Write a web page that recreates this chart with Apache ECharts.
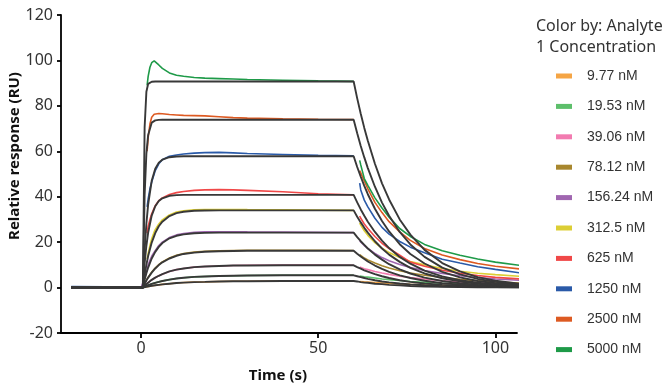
<!DOCTYPE html>
<html>
<head>
<meta charset="utf-8">
<script src="https://cdn.jsdelivr.net/npm/echarts@6/dist/echarts.min.js"></script>
<style>html,body{margin:0;padding:0;background:#fff}#c{width:672px;height:387px}</style>
</head>
<body>
<div id="c"></div>
<script>
// ---- data ----
const concLabels = ['9.77 nM','19.53 nM','39.06 nM','78.12 nM','156.24 nM','312.5 nM','625 nM','1250 nM','2500 nM','5000 nM'];
const xTicks = [0, 50, 100];

// time grid of measured (coloured) curves
const tData = [-19.7,-10,0,1,1.7,2,2.5,3,3.7,4,5,6,8,10,12,15,18,22,26,30,40,50,60,61,61.7,62,63,64,66,68,70,73,76,80,85,90,95,100,106.8];
const d5000 = [0.3,0.2,0.1,null,89,93,97,99,99.8,99.5,98,96.5,94.5,93.5,93,92.5,92.2,92,91.8,91.6,91.3,91,90.8,null,56,54,48,45,39.5,35,31,26,22.5,19,16.2,14.2,12.6,11.2,9.8];
const d2500 = [0,0.1,0,null,60,66,72,75,76.3,76.5,76.6,76.5,76.2,76,75.8,75.7,75.6,75.2,74.8,74.6,74.3,74.1,74,null,51.5,50.5,47,43.5,37.5,33,29,24.5,20.8,17.2,14.3,12.3,10.6,9.4,8.2];
const d1250 = [0.5,0.3,0.1,null,35.5,39,43.5,46.5,50,51.5,54.5,56.3,57.8,58.4,58.8,59.2,59.4,59.5,59.3,59,58.6,58.2,58,null,46,43,38.5,35.5,30.5,26.5,23.5,20.3,17.8,15.3,12.5,10.8,9.2,8,6.5];
const d625  = [0,0,0,null,24,27,30,32.5,35,36,38.3,39.5,41,41.8,42.3,42.8,43,43.1,43,42.8,42.2,41.3,40.8,null,31.5,30.5,28,26,22.5,19.5,17.2,14.3,11.2,9.4,7.6,6.3,5.3,4.5,3.8];
const d312  = [0,0,0,null,12.5,15,18.5,21.5,24.5,25.5,28,29.8,32,33.3,33.8,34.2,34.3,34.4,34.4,34.3,34.2,34.1,34,null,28.5,27.5,25,23,19.8,17.3,15.4,13.2,11.5,10,8.4,7.2,6.3,5.7,5];
const d156  = [0,0,0,4,8,10,12,13.8,15.6,16.3,18.5,20,22,23.2,23.8,24.3,24.5,24.6,24.6,24.5,24.4,24.3,24.2,null,20.5,20,18.5,17.2,15,13.2,11.8,10.2,8.8,7.5,6.2,5.2,4.4,3.8,3.2];
const d78   = [0,0,0,2,3.8,4.6,5.7,6.8,8.1,8.6,10.1,11.3,13,14.2,15,15.6,16,16.2,16.3,16.4,16.4,16.4,16.3,null,14.5,14,13,12.2,10.8,9.6,8.6,7.4,6.4,5.4,4.4,3.6,3,2.5,2];
const d39   = [0,0,0,1.2,1.8,2.2,2.8,3.4,4.1,4.4,5.2,5.9,7.1,7.9,8.4,9,9.3,9.5,9.7,9.8,9.9,9.9,9.8,null,9,8.8,8.3,7.9,7.1,6.4,5.8,5,4.4,3.7,3,2.5,2.1,1.8,1.5];
const d19   = [0,0,0,0.6,0.9,1,1.3,1.6,2,2.1,2.5,2.9,3.5,4,4.3,4.7,4.9,5.1,5.2,5.3,5.4,5.4,5.4,null,5.1,5,4.8,4.6,4.2,3.8,3.5,3.1,2.7,2.3,1.9,1.6,1.3,1.1,0.9];
const d9    = [0,0,0,0.3,0.4,0.5,0.6,0.8,0.9,1,1.2,1.4,1.7,2,2.2,2.4,2.5,2.7,2.8,2.8,2.9,2.9,2.9,null,2.7,2.6,2.5,2.4,2.2,2,1.8,1.6,1.4,1.2,1,0.8,0.7,0.6,0.5];

// time grid of fitted (black) curves
const tFit = [-19.7,0.5,1,1.5,2,3,4,5,6,8,10,12,15,18,22,26,30,40,50,60,61,62,63,64,66,68,70,73,76,80,85,90,95,100,106.8];
const f5000 = [0,0,70.5,86.2,89.7,90.6,90.7,90.7,90.7,90.7,90.7,90.7,90.7,90.7,90.7,90.7,90.7,90.7,90.7,90.7,83.3,76.5,70.3,64.6,54.5,45.9,38.8,30,23.3,16.6,10.8,7.1,4.6,3,1.7];
const f2500 = [0,0,40.7,59,67.2,72.6,73.6,73.85,73.9,73.9,73.9,73.9,73.9,73.9,73.9,73.9,73.9,73.9,73.9,73.9,67.9,62.3,57.3,52.6,44.4,37.4,31.6,24.5,19,13.5,8.8,5.8,3.8,2.5,1.4];
const f1250 = [0,0,16.5,28.2,36.6,47,52.3,55,56.3,57.4,57.7,57.8,57.8,57.8,57.8,57.8,57.8,57.8,57.8,57.8,53.1,48.8,44.8,41.1,34.7,29.3,24.7,19.1,14.8,10.6,6.9,4.5,2.9,1.9,1.1];
const f625  = [0,0,10.6,18.4,24.2,31.7,35.8,38.1,39.3,40.4,40.7,40.8,40.8,40.8,40.8,40.8,40.8,40.8,40.8,40.8,37.5,34.4,31.6,29,24.5,20.7,17.4,13.5,10.5,7.5,4.9,3.2,2.1,1.4,0.8];
const f312  = [0,0,5.5,10,13.9,19.8,24,27,29,31.5,32.8,33.4,33.8,33.9,34,34,34,34,34,34,31.2,28.7,26.3,24.2,20.4,17.2,14.5,11.3,8.7,6.2,4.1,2.7,1.7,1.1,0.6];
const f156  = [0,0,3.4,6.3,8.8,12.8,15.7,17.9,19.6,21.7,22.8,23.4,23.9,24.1,24.2,24.2,24.2,24.2,24.2,24.2,22.2,20.4,18.8,17.2,14.5,12.3,10.3,8,6.2,4.4,2.9,1.9,1.2,0.8,0.5];
const f78   = [0,0,1.6,3.1,4.4,6.6,8.4,9.9,11.1,12.8,14,14.8,15.4,15.8,16,16.1,16.2,16.2,16.2,16.2,14.9,13.7,12.6,11.5,9.7,8.2,6.9,5.4,4.2,3,1.9,1.3,0.8,0.5,0.3];
const f39   = [0,0,0.8,1.5,2.2,3.4,4.4,5.2,5.9,7.1,7.9,8.4,9,9.3,9.5,9.7,9.7,9.8,9.8,9.8,9,8.3,7.6,7,5.9,5,4.2,3.2,2.5,1.8,1.2,0.8,0.5,0.3,0.2];
const f19   = [0,0,0.4,0.7,1,1.6,2.1,2.5,2.9,3.5,4,4.3,4.7,4.9,5.1,5.2,5.3,5.4,5.4,5.4,5,4.6,4.2,3.8,3.2,2.7,2.3,1.8,1.4,1,0.6,0.4,0.3,0.2,0.1];
const f9    = [0,0,0.2,0.3,0.5,0.8,1,1.2,1.4,1.7,2,2.2,2.4,2.5,2.7,2.8,2.8,2.9,2.9,2.9,2.7,2.4,2.2,2.1,1.7,1.5,1.2,1,0.7,0.5,0.3,0.2,0.1,0.1,0.1];

const measured = [d9, d19, d39, d78, d156, d312, d625, d1250, d2500, d5000];
const fitted   = [f9, f19, f39, f78, f156, f312, f625, f1250, f2500, f5000];

// ---- styles ----
const palette = ['#F5A545','#5DBF6B','#F27BB0','#A8872E','#A066B0','#DCCE35','#F04848','#2A5AA8','#DD5A22','#1E9A48'];

const pair = (ts, vs) => ts.map((t, i) => [t, vs[i] === null ? '-' : vs[i]]);

const series = [];
measured.forEach((vals, i) => {
  series.push({
    name: concLabels[i], type: 'line', data: pair(tData, vals),
    showSymbol: false, symbol: 'none', connectNulls: false,
    lineStyle: { width: 1.6, color: palette[i] }, itemStyle: { color: palette[i] },
    z: 2, silent: true
  });
});
fitted.forEach((vals, i) => {
  series.push({
    name: 'fit ' + concLabels[i], type: 'line', data: pair(tFit, vals),
    showSymbol: false, symbol: 'none',
    lineStyle: { width: 1.9, color: '#383838' }, itemStyle: { color: '#383838' },
    z: 3, silent: true
  });
});

const chart = echarts.init(document.getElementById('c'), null, { renderer: 'canvas' });
chart.setOption({
  animation: false,
  backgroundColor: '#fff',
  grid: { left: 61, right: 155, top: 15, bottom: 54, containLabel: false },
  xAxis: {
    type: 'value', min: -22.6, max: 106.1,
    axisLine: { onZero: false, lineStyle: { color: '#000', width: 1.8 } },
    axisTick: { show: true, length: 5, customValues: xTicks, lineStyle: { color: '#000', width: 1.8 } },
    axisLabel: { customValues: xTicks, color: '#333', fontFamily: 'Noto Sans', fontSize: 16, margin: 7 },
    splitLine: { show: false }
  },
  yAxis: {
    type: 'value', min: -20, max: 120, interval: 20,
    axisLine: { show: true, onZero: false, lineStyle: { color: '#000', width: 1.8 } },
    axisTick: { show: true, length: 4, lineStyle: { color: '#000', width: 1.8 } },
    axisLabel: { color: '#333', fontFamily: 'Noto Sans', fontSize: 16, margin: 8 },
    splitLine: { show: false }
  },
  legend: {
    data: concLabels, orient: 'vertical', left: 556, top: 69, padding: 0,
    icon: 'rect', itemWidth: 16, itemHeight: 5, itemGap: 16.4,
    selectedMode: false,
    textStyle: { fontFamily: 'Liberation Sans', fontSize: 14, color: '#333', lineHeight: 14, padding: [0, 0, 0, 10] }
  },
  graphic: [
    { type: 'text', x: 536, y: 26, style: { text: 'Color by: Analyte', font: '16px "Noto Sans"', fill: '#333', verticalAlign: 'middle' } },
    { type: 'text', x: 536, y: 47, style: { text: '1 Concentration', font: '16px "Noto Sans"', fill: '#333', verticalAlign: 'middle' } },
    { type: 'text', x: 278, y: 376, style: { text: 'Time (s)', font: 'bold 15px "Noto Sans"', fill: '#111', align: 'center', verticalAlign: 'middle' } },
    { type: 'text', x: 15, y: 156, rotation: Math.PI / 2, style: { text: 'Relative response (RU)', font: 'bold 15px "Noto Sans"', fill: '#111', align: 'center', verticalAlign: 'middle' } }
  ],
  series: series
});
</script>
</body>
</html>
